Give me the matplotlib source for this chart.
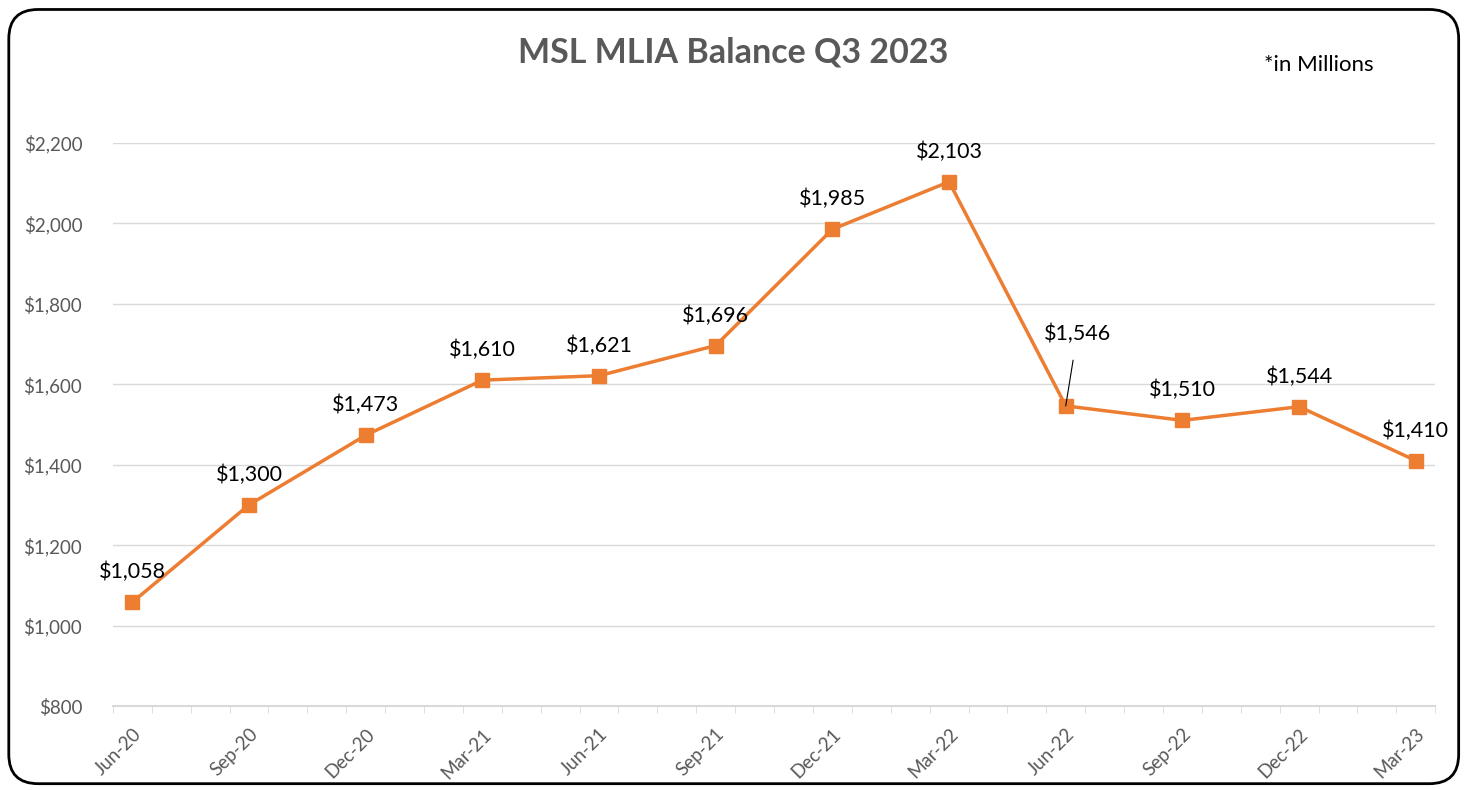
import matplotlib.pyplot as plt
from matplotlib.patches import FancyBboxPatch

plt.rcParams["font.family"] = ["Lato", "DejaVu Sans"]

quarters = ["Jun-20", "Sep-20", "Dec-20", "Mar-21", "Jun-21", "Sep-21",
            "Dec-21", "Mar-22", "Jun-22", "Sep-22", "Dec-22", "Mar-23"]
balance = [1058, 1300, 1473, 1610, 1621, 1696, 1985, 2103, 1546, 1510, 1544, 1410]
yticks = [800, 1000, 1200, 1400, 1600, 1800, 2000, 2200]

orange = "#ED7D31"
grey = "#595959"

fig = plt.figure(figsize=(14.66, 7.9), dpi=100)
ax = fig.add_axes([0.077, 0.1063, 0.902, 0.713])

# months on a date-like axis: each quarter point sits in the middle of its month slot
n_months = 3 * (len(quarters) - 1) + 1
xs = [3 * i + 0.5 for i in range(len(quarters))]

ax.plot(xs, balance, color=orange, lw=2.5, marker="s", ms=10, zorder=3)

for i, (x, v) in enumerate(zip(xs, balance)):
    lab = "${:,}".format(v)
    if quarters[i] == "Jun-22":
        ax.annotate(lab, xy=(x, v), xytext=(x + 0.3, v + 180), ha="center", va="center",
                    fontsize=15.5, color="black",
                    arrowprops=dict(arrowstyle="-", color="black", lw=0.8, shrinkA=10, shrinkB=0))
    else:
        ax.annotate(lab, xy=(x, v), xytext=(0, 30), textcoords="offset pixels",
                    ha="center", va="center", fontsize=15.5, color="black")

ax.set_xlim(0, n_months)
ax.set_ylim(800, 2200)
ax.set_yticks(yticks)
ax.set_yticklabels(["${:,}".format(t) for t in yticks], color=grey, fontsize=13.5)
ax.set_xticks(xs)
ax.set_xticklabels(quarters, rotation=45, ha="right", rotation_mode="anchor", color=grey, fontsize=13.5)
ax.set_xticks(range(n_months + 1), minor=True)
ax.tick_params(axis="x", which="major", length=0, pad=14)
ax.tick_params(axis="x", which="minor", length=5, color="#D9D9D9", direction="out")
ax.tick_params(axis="y", length=0, pad=22)
ax.grid(axis="y", color="#D9D9D9", lw=1)
ax.set_axisbelow(True)
for s in ["top", "right", "left"]:
    ax.spines[s].set_visible(False)
ax.spines["bottom"].set_color("#D9D9D9")
ax.spines["bottom"].set_linewidth(1.5)

fig.text(0.5, 0.934, "MSL MLIA Balance Q3 2023", ha="center", va="center",
         fontsize=24.5, fontweight="bold", color=grey)
fig.text(0.8625, 0.918, "*in Millions", ha="left", va="center", fontsize=16, color="black")

border = FancyBboxPatch((0.006, 0.008), 0.989, 0.98, boxstyle="round,pad=0,rounding_size=0.02",
                        transform=fig.transFigure, fill=False, ec="black", lw=2, mutation_aspect=1466 / 790)
fig.patches.append(border)

fig.savefig("out.png", dpi=100)
